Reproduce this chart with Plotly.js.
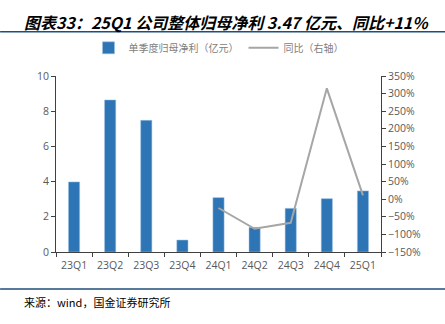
<!DOCTYPE html>
<html>
<head>
<meta charset="utf-8">
<script src="https://cdn.plot.ly/plotly-3.0.1.min.js"></script>
<style>html,body{margin:0;padding:0;background:#fff;}#chart{width:445px;height:324px;}</style>
</head>
<body>
<div id="chart"></div>
<script>
const categories = ['23Q1','23Q2','23Q3','23Q4','24Q1','24Q2','24Q3','24Q4','25Q1'];
const profitValues = [3.98, 8.64, 7.48, 0.68, 3.09, 1.40, 2.48, 3.03, 3.47];
const yoyCategories = ['24Q1','24Q2','24Q3','24Q4','25Q1'];
const yoyValues = [-25, -84, -67, 315, 11];
const seriesNames = ['单季度归母净利（亿元）', '同比（右轴）'];
const titleText = '图表33：25Q1 公司整体归母净利 3.47 亿元、同比+11%';
const sourceText = '来源：wind，国金证券研究所';

const tickFont = {family: '"Open Sans", "Noto Sans", sans-serif', size: 10.5, color: '#595959'};

const data = [
  {
    type: 'bar', x: categories, y: profitValues, name: seriesNames[0],
    marker: {color: '#2E75B6', line: {color: '#9DC3E6', width: 0.5}},
    yaxis: 'y'
  },
  {
    type: 'scatter', mode: 'lines', x: yoyCategories, y: yoyValues, name: seriesNames[1],
    line: {color: '#A6A6A6', width: 2},
    yaxis: 'y2'
  }
];

const layout = {
  width: 445, height: 324,
  margin: {l: 56, r: 64, t: 76, b: 72},
  paper_bgcolor: '#fff', plot_bgcolor: '#fff',
  font: {family: '"Noto Sans CJK SC", sans-serif', color: '#595959', size: 11},
  showlegend: true,
  bargap: 0.69,
  legend: {
    orientation: 'h', x: 0.5, xanchor: 'center', y: 1.16, yanchor: 'middle',
    font: {family: '"Noto Sans CJK SC", sans-serif', size: 10, color: '#808080'},
    itemwidth: 30, traceorder: 'normal'
  },
  xaxis: {
    type: 'category', showline: true, linecolor: '#404040', linewidth: 1,
    ticks: 'outside', tickson: 'boundaries', ticklen: 4, tickcolor: '#404040',
    tickangle: 0, tickfont: tickFont, showgrid: false, zeroline: false,
    ticklabelstandoff: 3
  },
  yaxis: {
    range: [0, 10], dtick: 2, showline: true, linecolor: '#404040', linewidth: 1,
    ticks: 'outside', ticklen: 4, tickcolor: '#404040',
    tickfont: tickFont, showgrid: false, zeroline: false
  },
  yaxis2: {
    overlaying: 'y', side: 'right', range: [-150, 350], dtick: 50, ticksuffix: '%',
    showline: true, linecolor: '#404040', linewidth: 1,
    ticks: 'outside', ticklen: 4, tickcolor: '#404040',
    tickfont: tickFont, showgrid: false, zeroline: false
  },
  annotations: [
    {
      xref: 'paper', yref: 'paper', x: -0.105, y: 1.305, xanchor: 'left', yanchor: 'middle',
      text: titleText, showarrow: false,
      font: {family: '"Noto Sans CJK SC", sans-serif', size: 16, color: '#000', style: 'italic', weight: 'bold'}
    },
    {
      xref: 'paper', yref: 'paper', x: -0.105, y: -0.283, xanchor: 'left', yanchor: 'middle',
      text: sourceText, showarrow: false,
      font: {family: '"Noto Sans CJK SC", sans-serif', size: 11, color: '#000'}
    }
  ],
  shapes: [
    {type: 'line', xref: 'paper', yref: 'paper', x0: -0.172, x1: 1.197, y0: 1.251, y1: 1.251,
     line: {color: '#1F4E79', width: 1.5}},
    {type: 'line', xref: 'paper', yref: 'paper', x0: -0.172, x1: 1.197, y0: -0.210, y1: -0.210,
     line: {color: '#1F4E79', width: 1.5}}
  ]
};

Plotly.newPlot('chart', data, layout, {displayModeBar: false, staticPlot: true});
</script>
</body>
</html>
